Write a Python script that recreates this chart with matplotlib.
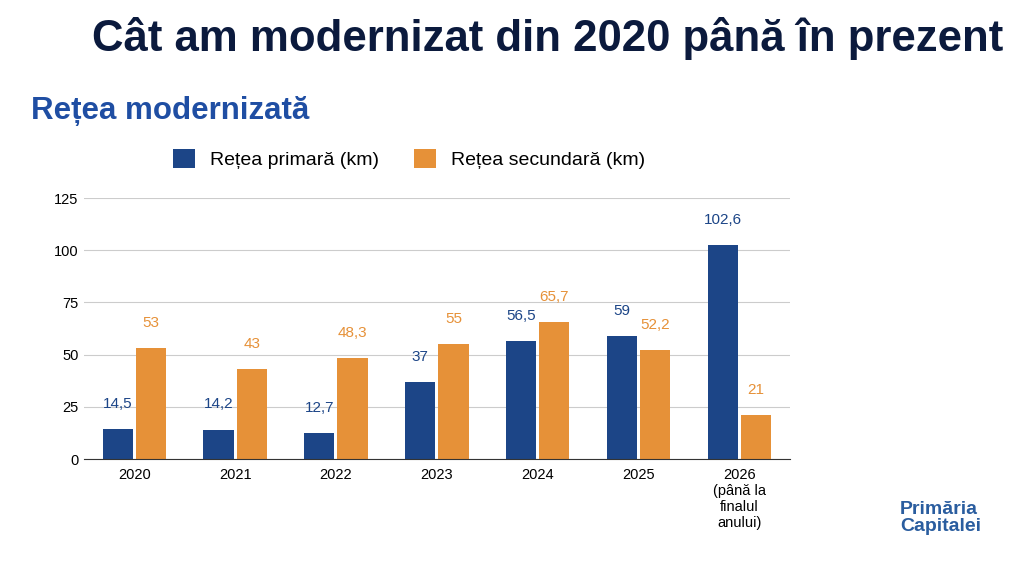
import numpy as np
import matplotlib.pyplot as plt

plt.rcParams["font.family"] = ["Liberation Sans", "DejaVu Sans"]

years = ["2020", "2021", "2022", "2023", "2024", "2025", "2026\n(până la\nfinalul\nanului)"]
primara = [14.5, 14.2, 12.7, 37, 56.5, 59, 102.6]
secundara = [53, 43, 48.3, 55, 65.7, 52.2, 21]

BLUE = "#1c4587"
ORANGE = "#e69138"

def fmt(v):
    s = f"{v:g}"
    return s.replace(".", ",")

fig = plt.figure(figsize=(10.23, 5.69), dpi=100)
fig.patch.set_facecolor("white")
ax = fig.add_axes([0.082, 0.193, 0.69, 0.459])

x = np.arange(len(years))
w = 0.3
b1 = ax.bar(x - 0.165, primara, w, color=BLUE, label="Rețea primară (km)")
b2 = ax.bar(x + 0.165, secundara, w, color=ORANGE, label="Rețea secundară (km)")
for bars, vals, col in [(b1, primara, BLUE), (b2, secundara, ORANGE)]:
    for r, v in zip(bars, vals):
        ax.annotate(fmt(v), (r.get_x() + r.get_width() / 2, v), xytext=(0, 13),
                    textcoords="offset points", ha="center", va="bottom",
                    color=col, fontsize=11)

ax.set_ylim(0, 125)
ax.set_yticks([0, 25, 50, 75, 100, 125])
ax.set_xlim(-0.5, len(years) - 0.5)
ax.set_xticks(x)
ax.set_xticklabels(years, fontsize=10.5, va="top")
ax.tick_params(axis="y", labelsize=10.5, length=0, pad=4)
ax.tick_params(axis="x", length=0, pad=6)
ax.grid(axis="y", color="#cccccc", linewidth=0.8)
ax.set_axisbelow(True)
for s in ["top", "right", "left"]:
    ax.spines[s].set_visible(False)
ax.spines["bottom"].set_color("#333333")

fig.legend(handles=[b1, b2], loc="center", bbox_to_anchor=(0.40, 0.72), ncol=2,
           frameon=False, fontsize=14, handlelength=1.1, handleheight=1.1, columnspacing=1.8)

fig.text(0.535, 0.932, "Cât am modernizat din 2020 până în prezent", ha="center", va="center",
         fontsize=31.5, fontweight="bold", color="#0b1a3d")
fig.text(0.03, 0.805, "Rețea modernizată", ha="left", va="center",
         fontsize=22.5, fontweight="bold", color="#1f4ea3")
fig.text(0.88, 0.09, "Primăria\nCapitalei", ha="left", va="center",
         fontsize=14, fontweight="bold", color="#2a5d9f", linespacing=1.0)

fig.savefig("out.png", dpi=100)
